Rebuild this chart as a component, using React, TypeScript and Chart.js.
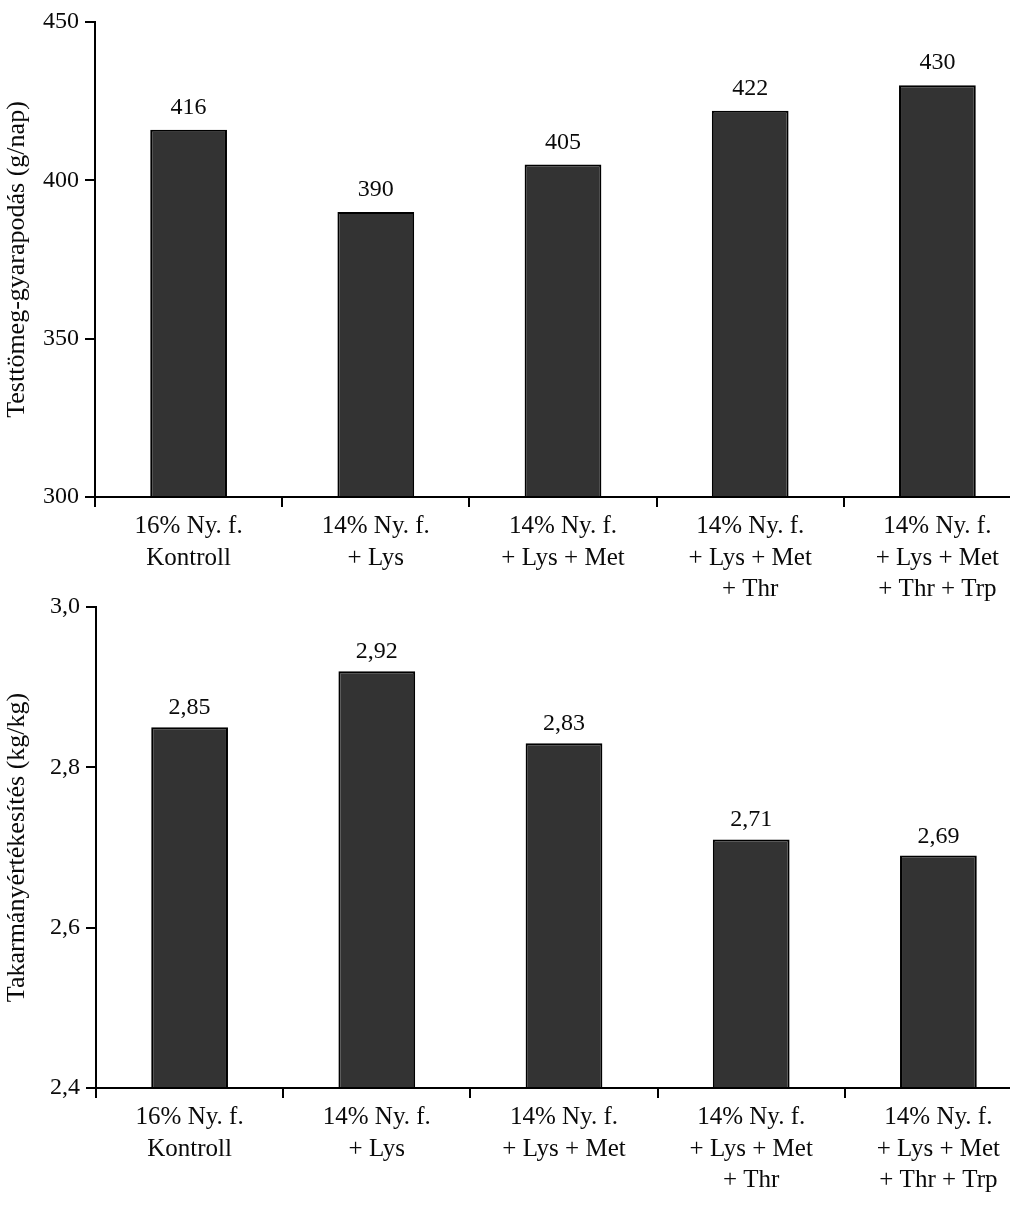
import React, { useEffect, useRef } from "react";
import { Chart, registerables } from "chart.js";

Chart.register(...registerables);

const categories: string[][] = [
  ["16% Ny. f.", "Kontroll"],
  ["14% Ny. f.", "+ Lys"],
  ["14% Ny. f.", "+ Lys + Met"],
  ["14% Ny. f.", "+ Lys + Met", "+ Thr"],
  ["14% Ny. f.", "+ Lys + Met", "+ Thr + Trp"],
];
const weightGain = [416, 390, 405, 422, 430];
const feedConversion = [2.85, 2.92, 2.83, 2.71, 2.69];

const weightAxis = { min: 300, max: 450, step: 50, title: "Testtömeg-gyarapodás (g/nap)", decimals: 0 };
const feedAxis = { min: 2.4, max: 3.0, step: 0.2, title: "Takarmányértékesítés (kg/kg)", decimals: 1 };

const FONT = "'Liberation Serif', 'Times New Roman', serif";
const INK = "#0a0a0a";

function fmt(v: number, decimals: number) {
  return v.toFixed(decimals).replace(".", ",");
}

type Geo = {
  canvasTop: number;
  canvasWidth: number;
  canvasHeight: number;
  plotLeft: number;
  plotRight: number;
  plotTop: number;
  plotBottom: number;
  axisEnd: number;
  labelDecimals: number;
  labelGap: number;
};

function makeChart(canvas: HTMLCanvasElement, values: number[], axis: any, geo: Geo) {
  const valueLabels = {
    id: "valueLabels",
    afterDatasetsDraw(chart: any) {
      const ctx = chart.ctx;
      const meta = chart.getDatasetMeta(0);
      ctx.save();
      ctx.font = `24px ${FONT}`;
      ctx.fillStyle = INK;
      ctx.textAlign = "center";
      ctx.textBaseline = "alphabetic";
      meta.data.forEach((bar: any, i: number) => {
        ctx.fillText(fmt(values[i], geo.labelDecimals), bar.x, bar.y - geo.labelGap);
      });
      ctx.restore();
    },
  };
  const xAxisLine = {
    id: "xAxisLine",
    afterDraw(chart: any) {
      const ctx = chart.ctx;
      const a = chart.chartArea;
      ctx.save();
      ctx.strokeStyle = "#000";
      ctx.lineWidth = 2;
      ctx.beginPath();
      ctx.moveTo(a.left - 1, a.bottom);
      ctx.lineTo(geo.axisEnd, a.bottom);
      ctx.stroke();
      ctx.restore();
    },
  };

  return new Chart(canvas, {
    type: "bar",
    data: {
      labels: categories,
      datasets: [
        {
          data: values,
          backgroundColor: "#333333",
          borderColor: "#000000",
          borderWidth: 2,
          barPercentage: 0.41,
          categoryPercentage: 1,
        },
      ],
    },
    options: {
      animation: false,
      responsive: false,
      devicePixelRatio: 1,
      layout: {
        padding: {
          left: 0,
          right: geo.canvasWidth - geo.plotRight,
          top: geo.plotTop - geo.canvasTop,
          bottom: 0,
        },
      },
      plugins: {
        legend: { display: false },
        tooltip: { enabled: false },
        title: { display: false },
      },
      scales: {
        x: {
          type: "category",
          offset: true,
          grid: {
            display: true,
            offset: true,
            drawOnChartArea: false,
            drawTicks: true,
            tickLength: 10,
            color: "#000",
            lineWidth: 2,
          },
          border: { display: false },
          ticks: {
            color: INK,
            font: { family: FONT, size: 25, lineHeight: 1.26 },
            padding: 4,
            maxRotation: 0,
            minRotation: 0,
            autoSkip: false,
          },
          afterFit(scale: any) {
            scale.height = geo.canvasTop + geo.canvasHeight - geo.plotBottom;
          },
        },
        y: {
          type: "linear",
          min: axis.min,
          max: axis.max,
          grid: {
            display: true,
            drawOnChartArea: false,
            drawTicks: true,
            tickLength: 10,
            color: "#000",
            lineWidth: 2,
          },
          border: { display: true, color: "#000", width: 2 },
          ticks: {
            stepSize: axis.step,
            color: INK,
            font: { family: FONT, size: 24 },
            padding: 6,
            callback: (v: any) => fmt(Number(v), axis.decimals),
          },
          title: {
            display: true,
            text: axis.title,
            color: INK,
            font: { family: FONT, size: 26, lineHeight: 1.2 },
            padding: { top: 2, bottom: 0 },
          },
          afterFit(scale: any) {
            scale.width = geo.plotLeft;
          },
        },
      },
    },
    plugins: [valueLabels, xAxisLine],
  } as any);
}

const topGeo: Geo = {
  canvasTop: 0,
  canvasWidth: 1045,
  canvasHeight: 612,
  plotLeft: 95,
  plotRight: 1031,
  plotTop: 22,
  plotBottom: 497,
  axisEnd: 1010,
  labelDecimals: 0,
  labelGap: 16,
};
const bottomGeo: Geo = {
  canvasTop: 585,
  canvasWidth: 1045,
  canvasHeight: 620,
  plotLeft: 96,
  plotRight: 1032,
  plotTop: 607,
  plotBottom: 1088,
  axisEnd: 1010,
  labelDecimals: 2,
  labelGap: 13,
};

export default function App() {
  const topRef = useRef<HTMLCanvasElement>(null);
  const bottomRef = useRef<HTMLCanvasElement>(null);

  useEffect(() => {
    const c1 = makeChart(topRef.current!, weightGain, weightAxis, topGeo);
    const c2 = makeChart(bottomRef.current!, feedConversion, feedAxis, bottomGeo);
    return () => {
      c1.destroy();
      c2.destroy();
    };
  }, []);

  return (
    <div
      style={{
        position: "fixed",
        left: 0,
        top: 0,
        width: 1024,
        height: 1205,
        overflow: "hidden",
        background: "#fff",
      }}
    >
      <canvas
        ref={topRef}
        width={topGeo.canvasWidth}
        height={topGeo.canvasHeight}
        style={{
          position: "absolute",
          left: 0,
          top: topGeo.canvasTop,
          width: topGeo.canvasWidth,
          height: topGeo.canvasHeight,
        }}
      />
      <canvas
        ref={bottomRef}
        width={bottomGeo.canvasWidth}
        height={bottomGeo.canvasHeight}
        style={{
          position: "absolute",
          left: 0,
          top: bottomGeo.canvasTop,
          width: bottomGeo.canvasWidth,
          height: bottomGeo.canvasHeight,
        }}
      />
    </div>
  );
}
